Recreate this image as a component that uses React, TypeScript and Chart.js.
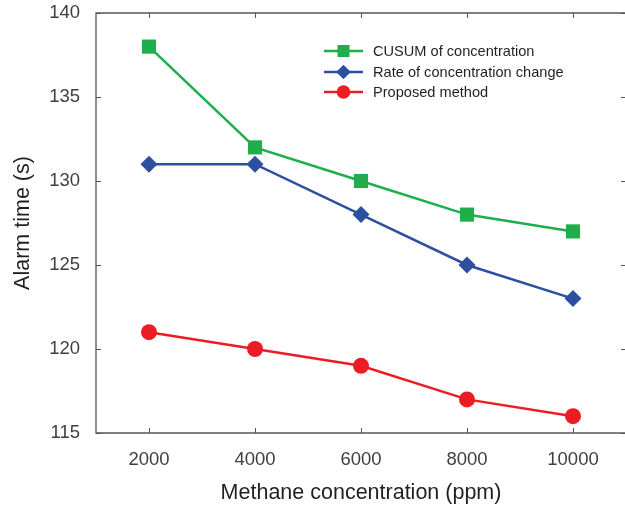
import React, { useEffect, useRef } from "react";
import { Chart, registerables } from "chart.js";

Chart.register(...registerables);

const categories = ["2000", "4000", "6000", "8000", "10000"];
const cusumValues = [138, 132, 130, 128, 127];
const rateValues = [131, 131, 128, 125, 123];
const proposedValues = [121, 120, 119, 117, 116];
const yTicks = [115, 120, 125, 130, 135, 140];

const seriesLabels = ["CUSUM of concentration", "Rate of concentration change", "Proposed method"];
const seriesColors = ["#1fae4b", "#2d4f9f", "#ec1c24"];
const seriesShapes = ["rect", "rectRot", "circle"];
const seriesRadius = [10, 8.5, 8];

const AXIS_COLOR = "#555555";

const framePlugin = {
  id: "frame",
  afterDatasetsDraw(chart: any) {
    const { ctx, chartArea, scales } = chart;
    const { left, right, top, bottom } = chartArea;
    const x = scales.x;
    const y = scales.y;
    const tl = 5;
    ctx.save();
    ctx.strokeStyle = AXIS_COLOR;
    ctx.lineWidth = 1.3;
    ctx.beginPath();
    ctx.rect(left, top, right - left, bottom - top);
    ctx.stroke();
    ctx.lineWidth = 1;
    ctx.beginPath();
    for (let i = 0; i < categories.length; i++) {
      const px = Math.round(x.getPixelForValue(i)) + 0.5;
      ctx.moveTo(px, bottom);
      ctx.lineTo(px, bottom - tl);
      ctx.moveTo(px, top);
      ctx.lineTo(px, top + tl);
    }
    for (const v of yTicks) {
      const py = Math.round(y.getPixelForValue(v)) + 0.5;
      ctx.moveTo(left, py);
      ctx.lineTo(left + tl, py);
      ctx.moveTo(right, py);
      ctx.lineTo(right - tl, py);
    }
    ctx.stroke();
    ctx.restore();
  },
};

function drawShape(ctx: CanvasRenderingContext2D, shape: string, cx: number, cy: number, r: number) {
  ctx.beginPath();
  if (shape === "rect") {
    const s = Math.SQRT1_2 * r;
    ctx.rect(cx - s, cy - s, 2 * s, 2 * s);
  } else if (shape === "rectRot") {
    ctx.moveTo(cx, cy - r);
    ctx.lineTo(cx + r, cy);
    ctx.lineTo(cx, cy + r);
    ctx.lineTo(cx - r, cy);
    ctx.closePath();
  } else {
    ctx.arc(cx, cy, r, 0, Math.PI * 2);
  }
  ctx.fill();
}

const legendPlugin = {
  id: "customLegend",
  afterDraw(chart: any) {
    const { ctx } = chart;
    const x0 = 324;
    const x1 = 363;
    const textX = 373;
    const rows = [51, 72, 92];
    ctx.save();
    ctx.font = '14.6px "Liberation Sans", Arial, sans-serif';
    ctx.textBaseline = "middle";
    ctx.textAlign = "left";
    chart.data.datasets.forEach((ds: any, i: number) => {
      const yy = rows[i];
      ctx.strokeStyle = seriesColors[i];
      ctx.lineWidth = 2.5;
      ctx.beginPath();
      ctx.moveTo(x0, yy);
      ctx.lineTo(x1, yy);
      ctx.stroke();
      ctx.fillStyle = seriesColors[i];
      drawShape(ctx, seriesShapes[i], (x0 + x1) / 2, yy, seriesRadius[i] * 0.85);
      ctx.fillStyle = "#231f20";
      ctx.fillText(ds.label, textX, yy + 0.5);
    });
    ctx.restore();
  },
};

export default function App() {
  const ref = useRef<HTMLCanvasElement | null>(null);

  useEffect(() => {
    if (!ref.current) return;
    const font = '"Liberation Sans", Arial, sans-serif';
    const dataSeries = [cusumValues, rateValues, proposedValues];
    const chart = new Chart(ref.current, {
      type: "line",
      data: {
        labels: categories,
        datasets: dataSeries.map((d, i) => ({
          label: seriesLabels[i],
          data: d,
          borderColor: seriesColors[i],
          backgroundColor: seriesColors[i],
          borderWidth: 2.5,
          pointStyle: seriesShapes[i] as any,
          pointRadius: seriesRadius[i],
          pointBorderWidth: 0,
          pointBackgroundColor: seriesColors[i],
          tension: 0,
          fill: false,
        })),
      },
      options: {
        animation: false,
        responsive: false,
        maintainAspectRatio: false,
        layout: { padding: { top: 13, right: 14, left: 0, bottom: 0 } },
        plugins: {
          legend: { display: false },
          tooltip: { enabled: false },
        },
        scales: {
          x: {
            type: "category",
            offset: true,
            grid: { display: false, drawTicks: false },
            border: { display: false },
            ticks: {
              color: "#404040",
              font: { family: font, size: 18.5 },
              padding: 16,
              maxRotation: 0,
            },
            title: {
              display: true,
              text: "Methane concentration (ppm)",
              color: "#231f20",
              font: { family: font, size: 21.5 },
              padding: { top: 6, bottom: 0 },
            },
            afterFit(scale: any) {
              scale.height = 73;
              scale.paddingLeft = 0;
              scale.paddingRight = 0;
            },
          },
          y: {
            type: "linear",
            min: 115,
            max: 140,
            grid: { display: false, drawTicks: false },
            border: { display: false },
            afterBuildTicks(scale: any) {
              scale.ticks = yTicks.map((v) => ({ value: v }));
            },
            ticks: {
              color: "#404040",
              font: { family: font, size: 18.5 },
              padding: 16,
            },
            title: {
              display: true,
              text: "Alarm time (s)",
              color: "#231f20",
              font: { family: font, size: 21.5 },
              padding: { top: 10, bottom: 4 },
            },
            afterFit(scale: any) {
              scale.width = 96;
              scale.paddingTop = 0;
              scale.paddingBottom = 0;
            },
          },
        },
      },
      plugins: [framePlugin, legendPlugin],
    });
    return () => chart.destroy();
  }, []);

  return (
    <div style={{ position: "fixed", left: 0, top: 0, width: 640, height: 506, background: "#fff" }}>
      <canvas ref={ref} width={640} height={506} style={{ width: 640, height: 506, display: "block" }} />
    </div>
  );
}
